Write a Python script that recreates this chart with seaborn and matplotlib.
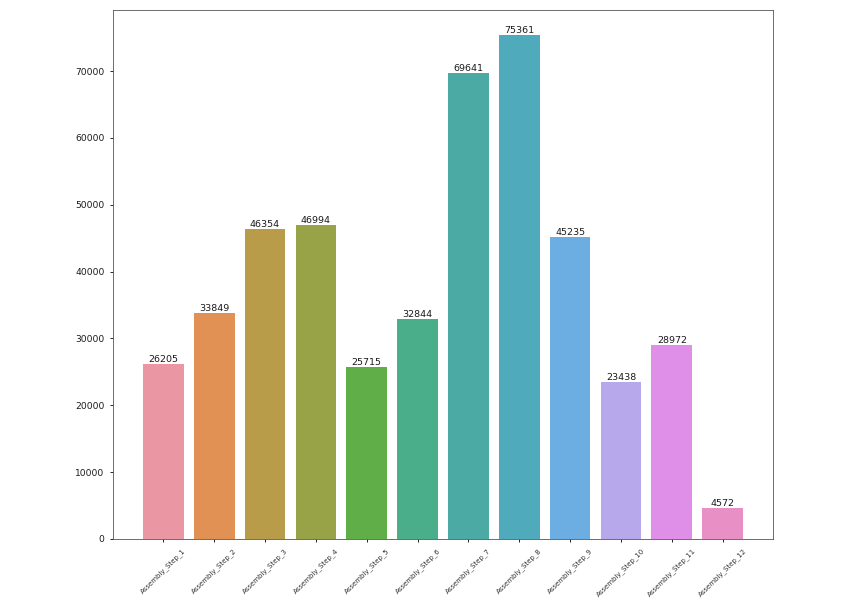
import matplotlib
matplotlib.use('Agg')
import matplotlib.pyplot as plt
import pandas as pd
import seaborn as sns

steps = ['Assembly_Step_1', 'Assembly_Step_2', 'Assembly_Step_3', 'Assembly_Step_4',
         'Assembly_Step_5', 'Assembly_Step_6', 'Assembly_Step_7', 'Assembly_Step_8',
         'Assembly_Step_9', 'Assembly_Step_10', 'Assembly_Step_11', 'Assembly_Step_12']
counts = [26205, 33849, 46354, 46994, 25715, 32844, 69641, 75361, 45235, 23438, 28972, 4572]

df = pd.DataFrame({'step': steps, 'count': counts})

fig = plt.figure(figsize=(8.58, 6.06), dpi=100)
ax = fig.add_axes([113 / 858, 67 / 606, 660 / 858, 529 / 606])

pal = sns.husl_palette(len(steps), l=0.7, s=0.9)
sns.barplot(data=df, x='step', y='count', hue='step', palette=pal,
            saturation=0.75, legend=False, ax=ax)

# value on top of each bar
for i, c in enumerate(counts):
    ax.text(i, c, str(c), ha='center', va='bottom', fontsize=6.8, color='#1a1a1a')

ax.set_xlim(-0.99, 11.99)
ax.set_ylim(0, max(counts) * 1.05)
ax.set_xlabel('')
ax.set_ylabel('')
ax.tick_params(axis='x', labelsize=5.0, labelrotation=45, length=2.5, width=0.6,
               labelcolor='#333333')
ax.tick_params(axis='y', labelsize=6.6, length=2.5, width=0.6, labelcolor='#1a1a1a')
for s in ax.spines.values():
    s.set_linewidth(0.6)
    s.set_color('#555555')

fig.savefig('out.png', dpi=100)
